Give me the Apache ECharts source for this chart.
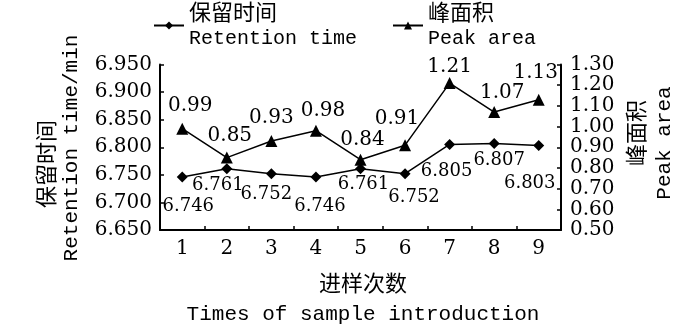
<!DOCTYPE html>
<html>
<head>
<meta charset="utf-8">
<script src="https://cdn.jsdelivr.net/npm/echarts@6/dist/echarts.min.js"></script>
<style>
  html, body { margin: 0; padding: 0; background: #fff; }
  #main { width: 700px; height: 327px; }
</style>
</head>
<body>
<div id="main"></div>
<script>
// 进样次数
const times = ['1', '2', '3', '4', '5', '6', '7', '8', '9'];
// 保留时间 / min
const retentionTime = [6.746, 6.761, 6.752, 6.746, 6.761, 6.752, 6.805, 6.807, 6.803];
// 峰面积
const peakArea = [0.99, 0.85, 0.93, 0.98, 0.84, 0.91, 1.21, 1.07, 1.13];

// label nudges, as in the figure
const rtLabelOffset = [[6, 29], [-9, 17], [-5, 21], [4, 29], [3, 16], [9, 24], [-3, 27], [5, 17], [-9, 38]];
const paLabelOffset = [[8, -23], [3, -22], [0, -23], [7, -20], [2, -20], [-8, -26], [0, -16], [8, -19], [-3, -27]];

const NUM_FONT = 'DejaVu Serif';
const MONO_FONT = 'Liberation Mono';
const CJK_FONT = 'Noto Sans CJK SC';

const myChart = echarts.init(document.getElementById('main'), null, { renderer: 'canvas' });

const axisLine = { show: true, lineStyle: { color: '#000', width: 2 } };
const axisTick = { show: true, inside: true, length: 4, lineStyle: { color: '#000', width: 1.5 } };

const legendRich = {
    cn: { fontFamily: CJK_FONT, fontSize: 22, lineHeight: 27, color: '#000' },
    en: { fontFamily: MONO_FONT, fontSize: 20, lineHeight: 27, color: '#000' }
};

myChart.setOption({
    animation: false,
    backgroundColor: '#fff',
    grid: { left: 160, right: 139, top: 64.5, bottom: 97, containLabel: false },
    legend: [{
        data: ['保留时间'],
        left: 153,
        top: 1,
        padding: 0,
        itemWidth: 30,
        itemHeight: 10,
        formatter: name => '{cn|保留时间}\n{en|Retention time}',
        textStyle: { rich: legendRich }
    }, {
        data: ['峰面积'],
        left: 392,
        top: 1,
        padding: 0,
        itemWidth: 30,
        itemHeight: 10,
        formatter: name => '{cn|峰面积}\n{en|Peak area}',
        textStyle: { rich: legendRich }
    }],
    xAxis: {
        type: 'category',
        data: times,
        boundaryGap: true,
        axisLine: axisLine,
        axisTick: axisTick,
        axisLabel: { fontFamily: NUM_FONT, fontSize: 20, color: '#000', margin: 9 },
        splitLine: { show: false }
    },
    yAxis: [{
        type: 'value',
        min: 6.65,
        max: 6.95,
        interval: 0.05,
        axisLine: axisLine,
        axisTick: axisTick,
        axisLabel: {
            fontFamily: NUM_FONT, fontSize: 20, color: '#000', margin: 8,
            formatter: v => v.toFixed(3)
        },
        splitLine: { show: false }
    }, {
        type: 'value',
        min: 0.5,
        max: 1.3,
        interval: 0.1,
        position: 'right',
        axisLine: axisLine,
        axisTick: axisTick,
        axisLabel: {
            fontFamily: NUM_FONT, fontSize: 20, color: '#000', margin: 9,
            formatter: v => v.toFixed(2)
        },
        splitLine: { show: false }
    }],
    graphic: [
        { type: 'text', x: 46, y: 164, rotation: Math.PI / 2,
          style: { text: '保留时间', font: '22px "' + CJK_FONT + '"', fill: '#000', textAlign: 'center', textVerticalAlign: 'middle' } },
        { type: 'text', x: 71, y: 148, rotation: Math.PI / 2,
          style: { text: 'Retention time/min', font: '21px "' + MONO_FONT + '"', fill: '#000', textAlign: 'center', textVerticalAlign: 'middle' } },
        { type: 'text', x: 636, y: 133, rotation: Math.PI / 2,
          style: { text: '峰面积', font: '22px "' + CJK_FONT + '"', fill: '#000', textAlign: 'center', textVerticalAlign: 'middle' } },
        { type: 'text', x: 664, y: 143, rotation: Math.PI / 2,
          style: { text: 'Peak area', font: '21px "' + MONO_FONT + '"', fill: '#000', textAlign: 'center', textVerticalAlign: 'middle' } },
        { type: 'text', x: 363, y: 283,
          style: { text: '进样次数', font: '22px "' + CJK_FONT + '"', fill: '#000', textAlign: 'center', textVerticalAlign: 'middle' } },
        { type: 'text', x: 363, y: 314,
          style: { text: 'Times of sample introduction', font: '21px "' + MONO_FONT + '"', fill: '#000', textAlign: 'center', textVerticalAlign: 'middle' } }
    ],
    series: [{
        name: '保留时间',
        type: 'line',
        yAxisIndex: 0,
        symbol: 'diamond',
        symbolSize: 11,
        color: '#000',
        lineStyle: { color: '#000', width: 1.5 },
        itemStyle: { color: '#000' },
        data: retentionTime.map((v, i) => ({
            value: v,
            label: { offset: rtLabelOffset[i] }
        })),
        label: {
            show: true,
            position: 'inside',
            fontFamily: NUM_FONT,
            fontSize: 18,
            color: '#000',
            formatter: p => p.value.toFixed(3)
        }
    }, {
        name: '峰面积',
        type: 'line',
        yAxisIndex: 1,
        symbol: 'triangle',
        symbolSize: 12,
        color: '#000',
        lineStyle: { color: '#000', width: 1.5 },
        itemStyle: { color: '#000' },
        data: peakArea.map((v, i) => ({
            value: v,
            label: { offset: paLabelOffset[i] }
        })),
        label: {
            show: true,
            position: 'inside',
            fontFamily: NUM_FONT,
            fontSize: 20,
            color: '#000',
            formatter: p => p.value.toFixed(2)
        }
    }]
});
</script>
</body>
</html>
